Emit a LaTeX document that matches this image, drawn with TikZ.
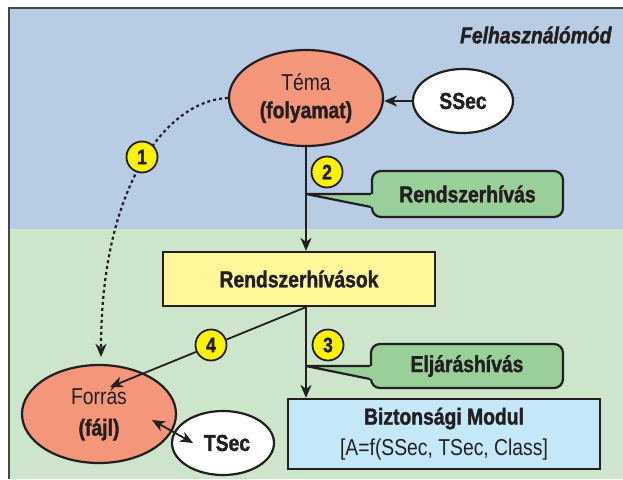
\documentclass[tikz,border=0pt]{standalone}
\usepackage{fontspec}
\setmainfont{Liberation Sans}[FakeStretch=0.84, BoldFeatures={FakeBold=1.5}, BoldItalicFeatures={FakeBold=1.5}]
\usetikzlibrary{arrows.meta,shapes.geometric,calc}
\definecolor{bgblue}{RGB}{184,204,228}
\definecolor{bggreen}{RGB}{204,229,203}
\definecolor{salmon}{RGB}{243,150,122}
\definecolor{callgreen}{RGB}{153,208,153}
\definecolor{boxyellow}{RGB}{255,247,153}
\definecolor{boxblue}{RGB}{197,232,248}
\definecolor{numyellow}{RGB}{255,242,0}
\definecolor{ink}{RGB}{35,31,32}
\definecolor{framegray}{RGB}{70,70,70}
\begin{document}
\begin{tikzpicture}[x=1pt,y=-1pt,
  every node/.style={text=ink, font=\fontsize{23}{28}\selectfont},
  ell/.style={ellipse, draw=ink, line width=2.2pt, inner sep=0pt, align=center},
  box/.style={rectangle, draw=ink, line width=2.2pt, inner sep=0pt, align=center},
  bftext/.style={font=\fontsize{23}{28}\selectfont\bfseries},
  callout/.style={rectangle, rounded corners=9pt, draw=ink, fill=callgreen, line width=2.2pt, inner sep=0pt, font=\fontsize{23}{26}\selectfont\bfseries},
  num/.style={circle, draw=ink, fill=numyellow, line width=1.8pt, minimum size=31pt, inner sep=0pt, font=\fontsize{21}{22}\selectfont\bfseries},
  conn/.style={draw=ink, line width=1.8pt},
  tip/.style={-{Stealth[length=13pt,width=11pt,inset=4pt]}},
  dtip/.style={{Stealth[length=13pt,width=11pt,inset=4pt]}-{Stealth[length=13pt,width=11pt,inset=4pt]}},
  tailfill/.style={fill=callgreen},
  tailline/.style={draw=ink, line width=2.2pt, line join=round},
]
\useasboundingbox (0,0) rectangle (623,479);
\fill[white] (0,0) rectangle (623,479);
\fill[bgblue] (9,8) rectangle (623,229);
\fill[bggreen] (9,229) rectangle (623,479);
\draw[framegray, line width=1.8pt] (9,479) -- (9,8) -- (623,8);

\node[font=\fontsize{23}{26}\selectfont\bfseries\itshape, anchor=east] (mode) at (615,35) {Felhasználómód};

% main nodes
\node[ell, fill=salmon, minimum width=154pt, minimum height=96pt] (tema) at (306,98) {Téma\\\textbf{(folyamat)}};
\node[ell, bftext, fill=white, minimum width=100pt, minimum height=64pt] (ssec) at (463,101) {SSec};
\node[box, bftext, fill=boxyellow, minimum width=272pt, minimum height=54pt] (rbox) at (299,279) {Rendszerhívások};
\node[box, fill=boxblue, minimum width=312pt, minimum height=70pt, font=\fontsize{23}{31}\selectfont] (bizt) at (444,434) {\textbf{Biztonsági Modul}\\{}[A=f(SSec, TSec, Class]};
\node[ell, fill=salmon, minimum width=154pt, minimum height=98pt, font=\fontsize{23}{31}\selectfont] (forras) at (99,414) {Forrás\\\textbf{(fájl)}};
\node[ell, bftext, fill=white, minimum width=102pt, minimum height=64pt] (tsec) at (223,443) {\hspace*{8pt}TSec};

% callouts
\node[callout, minimum width=191pt, minimum height=46pt] (rhivas) at (467.5,194) {Rendszerhívás};
\node[callout, minimum width=192pt, minimum height=44pt] (ehivas) at (467,366) {Eljáráshívás};

% helper coordinates
\coordinate (split) at (tema.south |- rbox.south);
\coordinate (t2) at (tema.south |- rhivas.west);
\coordinate (t3) at (tema.south |- ehivas.west);
\coordinate (f4) at ($(forras.center)+(11,-27)$);
\coordinate (f1) at ($(forras.north)+(2,-7)$);
\coordinate (da) at ($(forras.center)+(53,6)$);
\coordinate (db) at ($(tsec.center)+(-30,0)$);

% connectors
\draw[conn, tip] (ssec.west) -- (ssec.west -| tema.east);
\draw[conn, tip] (tema.south) -- (tema.south |- rbox.north);
\draw[conn, tip] (split) -- (split |- bizt.north);
\draw[conn, tip] (split) -- (f4);
\draw[conn, line width=2.2pt, dash pattern=on 3pt off 3pt, tip] (tema.west) .. controls (170,100) and (101,180) .. (f1);
\draw[conn, dtip] (da) -- (db);

% callout tails
\fill[tailfill] (t2) -- ($(rhivas.west)+(3,0)$) -- ($(rhivas.west)+(3,13)$) -- ($(rhivas.west)+(0,13)$) -- cycle;
\draw[tailline] (rhivas.west) -- (t2) -- ($(rhivas.west)+(0,13)$);
\fill[tailfill] (t3) -- ($(ehivas.west)+(3,0)$) -- ($(ehivas.west)+(3,13)$) -- ($(ehivas.west)+(0,13)$) -- cycle;
\draw[tailline] (ehivas.west) -- (t3) -- ($(ehivas.west)+(0,13)$);

% numbers
\node[num] (n1) at (142,157) {1};
\node[num] (n2) at (327,172) {2};
\node[num] (n3) at (328,345) {3};
\node[num] (n4) at (211,345) {4};
\end{tikzpicture}
\end{document}
